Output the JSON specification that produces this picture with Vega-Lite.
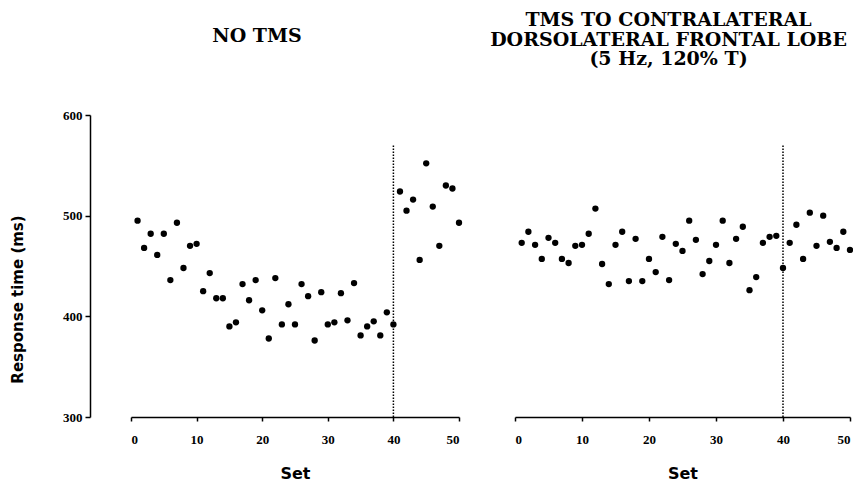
{
  "$schema": "https://vega.github.io/schema/vega-lite/v6.json",
  "background": "white",
  "padding": {"left": 10, "top": 11, "right": 0, "bottom": 0},
  "bounds": "flush",
  "spacing": 56,
  "config": {
    "view": {"stroke": null},
    "font": "Liberation Serif",
    "axis": {
      "domain": true,
      "ticks": true,
      "domainColor": "#000000",
      "domainOpacity": 1,
      "domainWidth": 1.5,
      "tickColor": "#000000",
      "tickOpacity": 1,
      "tickWidth": 1.5,
      "tickSize": 4,
      "grid": false,
      "labelFont": "Liberation Serif",
      "labelFontWeight": "bold",
      "labelFontSize": 13,
      "labelColor": "black",
      "titleColor": "black",
      "titleFont": "DejaVu Sans",
      "titleFontWeight": "bold",
      "titleFontSize": 15
    },
    "title": {"font": "DejaVu Serif", "fontWeight": "bold", "fontSize": 19, "color": "black", "anchor": "middle", "lineHeight": 19.5}
  },
  "datasets": {
    "noTMS": [
      {"set": 1, "rt": 495}, {"set": 2, "rt": 468}, {"set": 3, "rt": 482}, {"set": 4, "rt": 461}, {"set": 5, "rt": 482},
      {"set": 6, "rt": 436}, {"set": 7, "rt": 493}, {"set": 8, "rt": 448}, {"set": 9, "rt": 470}, {"set": 10, "rt": 472},
      {"set": 11, "rt": 425}, {"set": 12, "rt": 443}, {"set": 13, "rt": 418}, {"set": 14, "rt": 418}, {"set": 15, "rt": 390},
      {"set": 16, "rt": 394}, {"set": 17, "rt": 432}, {"set": 18, "rt": 416}, {"set": 19, "rt": 436}, {"set": 20, "rt": 406},
      {"set": 21, "rt": 378}, {"set": 22, "rt": 438}, {"set": 23, "rt": 392}, {"set": 24, "rt": 412}, {"set": 25, "rt": 392},
      {"set": 26, "rt": 432}, {"set": 27, "rt": 420}, {"set": 28, "rt": 376}, {"set": 29, "rt": 424}, {"set": 30, "rt": 392},
      {"set": 31, "rt": 394}, {"set": 32, "rt": 423}, {"set": 33, "rt": 396}, {"set": 34, "rt": 433}, {"set": 35, "rt": 381},
      {"set": 36, "rt": 390}, {"set": 37, "rt": 395}, {"set": 38, "rt": 381}, {"set": 39, "rt": 404}, {"set": 40, "rt": 392},
      {"set": 41, "rt": 524}, {"set": 42, "rt": 505}, {"set": 43, "rt": 516}, {"set": 44, "rt": 456}, {"set": 45, "rt": 552},
      {"set": 46, "rt": 509}, {"set": 47, "rt": 470}, {"set": 48, "rt": 530}, {"set": 49, "rt": 527}, {"set": 50, "rt": 493}
    ],
    "tms": [
      {"set": 1, "rt": 473}, {"set": 2, "rt": 484}, {"set": 3, "rt": 471}, {"set": 4, "rt": 457}, {"set": 5, "rt": 478},
      {"set": 6, "rt": 473}, {"set": 7, "rt": 457}, {"set": 8, "rt": 453}, {"set": 9, "rt": 470}, {"set": 10, "rt": 471},
      {"set": 11, "rt": 482}, {"set": 12, "rt": 507}, {"set": 13, "rt": 452}, {"set": 14, "rt": 432}, {"set": 15, "rt": 471},
      {"set": 16, "rt": 484}, {"set": 17, "rt": 435}, {"set": 18, "rt": 477}, {"set": 19, "rt": 435}, {"set": 20, "rt": 457},
      {"set": 21, "rt": 444}, {"set": 22, "rt": 479}, {"set": 23, "rt": 436}, {"set": 24, "rt": 472}, {"set": 25, "rt": 465},
      {"set": 26, "rt": 495}, {"set": 27, "rt": 476}, {"set": 28, "rt": 442}, {"set": 29, "rt": 455}, {"set": 30, "rt": 471},
      {"set": 31, "rt": 495}, {"set": 32, "rt": 453}, {"set": 33, "rt": 477}, {"set": 34, "rt": 489}, {"set": 35, "rt": 426},
      {"set": 36, "rt": 439}, {"set": 37, "rt": 473}, {"set": 38, "rt": 479}, {"set": 39, "rt": 480}, {"set": 40, "rt": 448},
      {"set": 41, "rt": 473}, {"set": 42, "rt": 491}, {"set": 43, "rt": 457}, {"set": 44, "rt": 503}, {"set": 45, "rt": 470},
      {"set": 46, "rt": 500}, {"set": 47, "rt": 474}, {"set": 48, "rt": 468}, {"set": 49, "rt": 484}, {"set": 50, "rt": 466}
    ],
    "divider": [{"set": 40, "rt": 300, "rt2": 570}]
  },
  "hconcat": [
    {
      "width": 328,
      "height": 302,
      "title": {"text": "NO TMS", "offset": 63, "dx": -38},
      "encoding": {
        "x": {
          "field": "set", "type": "quantitative",
          "scale": {"domain": [0, 50], "nice": false, "zero": false},
          "axis": {"values": [0, 10, 20, 30, 40, 50], "domain": true, "ticks": true, "title": "Set", "titleFontSize": 16, "labelPadding": 12, "titlePadding": 19}
        },
        "y": {
          "field": "rt", "type": "quantitative",
          "scale": {"domain": [300, 600], "nice": false, "zero": false},
          "axis": {"values": [300, 400, 500, 600], "domain": true, "ticks": true, "title": "Response time (ms)", "offset": 41, "tickSize": 5, "labelPadding": 3, "titleX": -73, "titleY": 184, "titleAlign": "center", "titleAngle": 270, "titleBaseline": "middle"}
        }
      },
      "layer": [
        {
          "data": {"name": "divider"},
          "mark": {"type": "rule", "color": "black", "strokeWidth": 1.5, "strokeDash": [1.5, 1.5]},
          "encoding": {"y2": {"field": "rt2"}}
        },
        {
          "data": {"name": "noTMS"},
          "mark": {"type": "point", "filled": true, "size": 40, "color": "black", "opacity": 1}
        }
      ]
    },
    {
      "width": 335,
      "height": 302,
      "title": {"text": ["TMS TO CONTRALATERAL", "DORSOLATERAL FRONTAL LOBE", "(5 Hz, 120% T)"], "offset": 46, "dx": -14},
      "encoding": {
        "x": {
          "field": "set", "type": "quantitative",
          "scale": {"domain": [0, 50], "nice": false, "zero": false},
          "axis": {"values": [0, 10, 20, 30, 40, 50], "domain": true, "ticks": true, "title": "Set", "titleFontSize": 16, "labelPadding": 12, "titlePadding": 19}
        },
        "y": {
          "field": "rt", "type": "quantitative",
          "scale": {"domain": [300, 600], "nice": false, "zero": false},
          "axis": null
        }
      },
      "layer": [
        {
          "data": {"name": "divider"},
          "mark": {"type": "rule", "color": "black", "strokeWidth": 1.5, "strokeDash": [1.5, 1.5]},
          "encoding": {"y2": {"field": "rt2"}}
        },
        {
          "data": {"name": "tms"},
          "mark": {"type": "point", "filled": true, "size": 40, "color": "black", "opacity": 1}
        }
      ]
    }
  ]
}
